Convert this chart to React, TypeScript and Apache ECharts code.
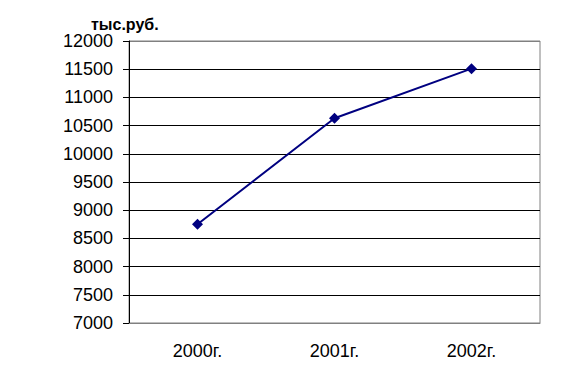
import React, { useEffect, useRef } from "react";
import * as echarts from "echarts";

const categories = ["2000г.", "2001г.", "2002г."];
const values = [8750, 10630, 11510];
const yMin = 7000;
const yMax = 12000;
const yStep = 500;
const unitLabel = "тыс.руб.";

export default function App() {
  const ref = useRef<HTMLDivElement>(null);
  useEffect(() => {
    if (!ref.current) return;
    const chart = echarts.init(ref.current, null, { renderer: "svg" });
    const nTicks = (yMax - yMin) / yStep + 1;
    const splitColors = Array.from({ length: nTicks }, (_, i) =>
      i === 0 || i === nTicks - 1 ? "#808080" : "#000000"
    );
    chart.setOption({
      animation: false,
      backgroundColor: "#ffffff",
      title: {
        text: unitLabel,
        left: 91,
        top: 16,
        padding: 0,
        textStyle: {
          fontFamily: "Liberation Sans, Arial, sans-serif",
          fontSize: 16,
          fontWeight: "bold",
          color: "#000",
        },
      },
      grid: {
        left: 129,
        right: 40,
        top: 41,
        bottom: 49,
        show: true,
        borderColor: "#808080",
        borderWidth: 1,
        backgroundColor: "transparent",
      },
      xAxis: {
        type: "category",
        data: categories,
        boundaryGap: true,
        axisLine: { show: true, lineStyle: { color: "#808080", width: 1 } },
        axisTick: { show: false },
        axisLabel: {
          margin: 19,
          color: "#000",
          fontFamily: "Liberation Sans, Arial, sans-serif",
          fontSize: 18,
        },
        splitLine: { show: false },
      },
      yAxis: {
        type: "value",
        min: yMin,
        max: yMax,
        interval: yStep,
        axisLine: { show: true, lineStyle: { color: "#000", width: 1 } },
        axisTick: { show: true, inside: false, length: 6, lineStyle: { color: "#000" } },
        axisLabel: {
          margin: 16,
          color: "#000",
          fontFamily: "Liberation Sans, Arial, sans-serif",
          fontSize: 18,
          formatter: (v: number) => String(v),
        },
        splitLine: { show: true, lineStyle: { color: splitColors, width: 1 } },
      },
      series: [
        {
          type: "line",
          data: values,
          symbol: "diamond",
          symbolSize: 11,
          itemStyle: { color: "#000080" },
          lineStyle: { color: "#000080", width: 2 },
        },
      ],
    });
    return () => chart.dispose();
  }, []);
  return (
    <div
      ref={ref}
      style={{ position: "fixed", left: 0, top: 0, width: 580, height: 372 }}
    />
  );
}
